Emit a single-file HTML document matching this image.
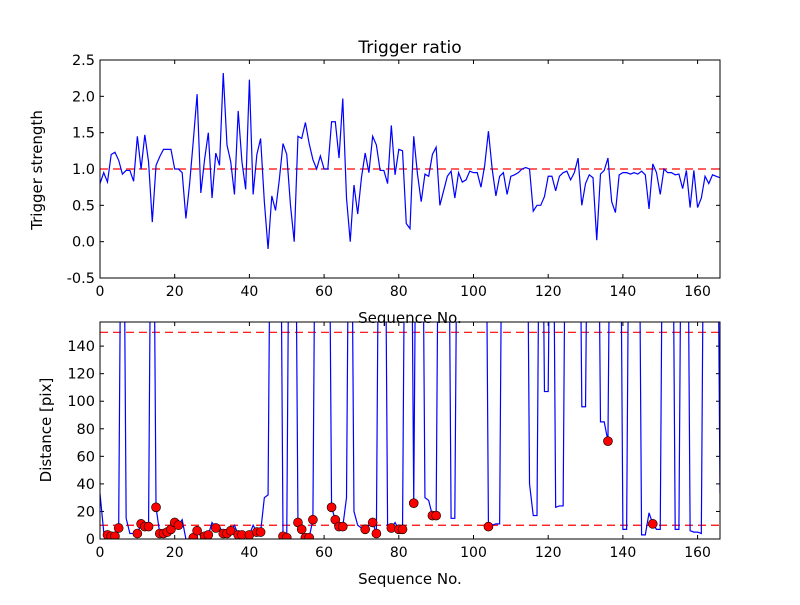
<!DOCTYPE html>
<html><head><meta charset="utf-8"><style>
body{margin:0;background:#fff}
svg text{font-family:"DejaVu Sans","Liberation Sans",sans-serif;fill:#000}
</style></head><body>
<svg id="c" width="800" height="600" xmlns="http://www.w3.org/2000/svg">
<rect width="800" height="600" fill="#fff"/>
</svg>
<script>
const ratioValues=[0.8,0.95,0.82,1.2,1.23,1.12,0.93,0.98,0.98,0.83,1.45,1.0,1.47,1.1,0.27,1.05,1.17,1.27,1.27,1.27,1.0,1.0,0.95,0.32,0.8,1.4,2.03,0.67,1.13,1.5,0.6,1.22,1.05,2.32,1.33,1.1,0.65,1.8,1.1,0.72,2.23,0.65,1.2,1.42,0.55,-0.1,0.63,0.43,0.85,1.35,1.2,0.5,0.0,1.45,1.42,1.64,1.35,1.13,1.0,1.18,1.0,1.0,1.65,1.65,1.15,1.97,0.6,0.0,0.78,0.38,0.88,1.22,0.95,1.45,1.33,0.98,0.98,0.8,1.6,0.92,1.27,1.25,0.25,0.18,1.45,0.93,0.55,0.93,0.9,1.2,1.3,0.5,0.7,0.9,0.97,0.6,0.95,0.82,0.85,0.97,0.95,0.95,0.75,1.05,1.52,1.0,0.63,0.9,0.95,0.65,0.9,0.92,0.95,1.0,1.02,1.0,0.42,0.5,0.5,0.62,0.9,0.9,0.7,0.9,0.95,0.97,0.85,0.95,1.15,0.5,0.8,0.92,0.88,0.02,0.93,0.98,1.15,0.55,0.4,0.92,0.95,0.95,0.93,0.95,0.93,0.97,0.92,0.45,1.07,0.95,0.65,1.0,0.95,0.95,0.92,0.93,0.73,0.98,0.47,0.98,0.47,0.6,0.9,0.8,0.92,0.9,0.88];
const H=400;
const distValues=[33,5,3,2,2,8,H,15,4,4,4,11,9,9,H,23,4,4,5,7,12,10,14,0,0,1,6,2,2,3,12,8,9,4,4,6,10,3,3,3,3,10,5,5,30,32,H,H,H,2,1,H,H,12,7,1,1,14,H,H,H,H,23,14,9,9,30,H,20,10,8,7,10,12,4,H,H,10,8,12,7,7,H,H,26,H,H,30,28,17,17,H,H,H,15,15,H,H,H,H,H,H,H,H,9,10,11,11,H,H,H,H,H,H,H,40,17,17,H,107,107,H,23,24,24,H,H,H,H,96,96,H,H,H,85,85,71,H,H,H,7,7,H,H,H,3,3,19,11,7,7,H,H,H,7,7,H,H,6,5,5,4,H,H,H,H,33];
const markerIdx=[2,3,4,5,10,11,12,13,15,16,17,18,19,20,21,25,26,28,29,31,33,34,35,37,38,40,42,43,49,50,53,54,55,56,57,62,63,64,65,71,73,74,78,80,81,84,89,90,104,136,148];
const xTicks=[0,20,40,60,80,100,120,140,160];
const topYTicks=[-0.5,0.0,0.5,1.0,1.5,2.0,2.5];
const botYTicks=[0,20,40,60,80,100,120,140];
const NS='http://www.w3.org/2000/svg';
const svg=document.getElementById('c');
function mk(t,a,p){const e=document.createElementNS(NS,t);for(const k in a)e.setAttribute(k,a[k]);(p||svg).appendChild(e);return e;}
const L=100,R=720,XMAX=166;
const sx=v=>L+(R-L)*v/XMAX;
function axes(top,bot,ymin,ymax,yt,fmt,name){
  const sy=v=>bot-(bot-top)*(v-ymin)/(ymax-ymin);
  const g=mk('g',{});
  
  
  const clipId='clip-'+name;
  const cp=mk('clipPath',{id:clipId},g);mk('rect',{x:L,y:top,width:R-L,height:bot-top},cp);
  xTicks.forEach(t=>{const x=sx(t);
    mk('line',{x1:x,x2:x,y1:bot,y2:bot-4,stroke:'#000'},g);mk('line',{x1:x,x2:x,y1:top,y2:top+4,stroke:'#000'},g);
    const tx=mk('text',{x:x,y:bot+18,'text-anchor':'middle','font-size':'14'},g);tx.textContent=t;
    });
  yt.forEach(t=>{const y=sy(t);
    mk('line',{x1:L,x2:L+4,y1:y,y2:y,stroke:'#000'},g);mk('line',{x1:R,x2:R-4,y1:y,y2:y,stroke:'#000'},g);
    const tx=mk('text',{x:L-5,y:y+5,'text-anchor':'end','font-size':'14.5'},g);tx.textContent=fmt(t);
    });
  return {g,sy,clipId};
}
// top
const A=axes(60,278,-0.5,2.5,topYTicks,t=>t.toFixed(1),'ratio-axes');
const ref1=mk('line',{x1:L,x2:R,y1:A.sy(1),y2:A.sy(1),stroke:'#f00','stroke-width':1.2,'stroke-dasharray':'8,5'},A.g);

const p1=mk('polyline',{points:ratioValues.map((v,i)=>sx(i)+','+A.sy(v)).join(' '),fill:'none',stroke:'#00f','stroke-width':1.2,'clip-path':'url(#'+A.clipId+')'},A.g);

mk('rect',{x:L,y:60,width:R-L,height:218,fill:'none',stroke:'#000'},A.g);
// bottom
const B=axes(322,539,0,157.5,botYTicks,t=>t,'distance-axes');
[150,10].forEach(v=>{const l=mk('line',{x1:L,x2:R,y1:B.sy(v),y2:B.sy(v),stroke:'#f00','stroke-width':1.2,'stroke-dasharray':'8,5'},B.g);
  });
const p2=mk('polyline',{points:distValues.map((v,i)=>sx(i)+','+B.sy(v)).join(' '),fill:'none',stroke:'#00f','stroke-width':1.2,'clip-path':'url(#'+B.clipId+')'},B.g);

markerIdx.forEach(i=>{const c=mk('circle',{cx:sx(i),cy:B.sy(distValues[i]),r:4.5,fill:'#f00',stroke:'#000','stroke-width':0.6,'clip-path':'url(#'+B.clipId+')'},B.g);
  });
mk('rect',{x:L,y:322,width:R-L,height:217,fill:'none',stroke:'#000'},B.g);
// labels
function txt(s,a,name){const t=mk('text',a);t.textContent=s;}
txt('Trigger ratio',{x:410,y:53,'text-anchor':'middle','font-size':'17'},'chart-title');
txt('Sequence No.',{x:410,y:323,'text-anchor':'middle','font-size':'15'},'top-x-axis-title');
txt('Sequence No.',{x:410,y:584,'text-anchor':'middle','font-size':'15'},'bottom-x-axis-title');
txt('Trigger strength',{x:0,y:0,'text-anchor':'middle','font-size':'15',transform:'translate(42,170) rotate(-90)'},'top-y-axis-title');
txt('Distance [pix]',{x:0,y:0,'text-anchor':'middle','font-size':'15',transform:'translate(51,430) rotate(-90)'},'bottom-y-axis-title');
</script>
</body></html>
